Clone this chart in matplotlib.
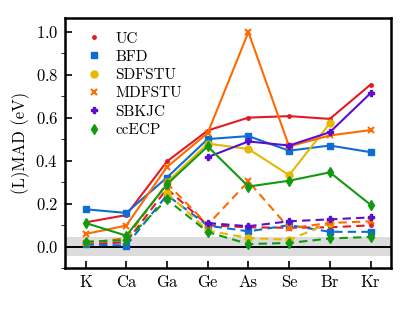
import numpy as np
import matplotlib
matplotlib.use("Agg")
from matplotlib import pyplot as plt
from matplotlib.lines import Line2D
from matplotlib.ticker import MultipleLocator

plt.rcParams["font.family"] = "cmr10"
plt.rcParams["mathtext.fontset"] = "cm"
plt.rcParams["axes.formatter.use_mathtext"] = True

elements = ["K", "Ca", "Ga", "Ge", "As", "Se", "Br", "Kr"]
methods = ["UC", "BFD", "SDFSTU", "MDFSTU", "SBKJC", "ccECP"]
colors = ["#e41a23", "#0f6cd1", "#e6b800", "#ff6a00", "#5a0fcf", "#119a11"]
markers = [".", "s", "o", "x", "P", "d"]

# solid lines (large)
uc_l = [0.113, 0.147, 0.397, 0.541, 0.601, 0.608, 0.595, 0.755]
bfd_l = [0.174, 0.157, 0.322, 0.501, 0.515, 0.447, 0.471, 0.440]
sdfstu_l = [np.nan, np.nan, 0.300, 0.480, 0.455, 0.333, 0.575, np.nan]
mdfstu_l = [0.059, 0.098, 0.371, 0.529, 0.999, 0.467, 0.518, 0.543]
sbkjc_l = [np.nan, np.nan, np.nan, 0.417, 0.490, 0.471, 0.533, 0.715]
ccecp_l = [0.110, 0.051, 0.290, 0.467, 0.280, 0.307, 0.346, 0.195]

# dashed lines (small)
uc_s = [0.012, 0.020, 0.270, 0.100, 0.090, 0.088, 0.090, 0.099]
bfd_s = [0.010, 0.005, 0.240, 0.098, 0.071, 0.100, 0.069, 0.069]
sdfstu_s = [np.nan, np.nan, 0.250, 0.075, 0.040, 0.032, 0.110, np.nan]
mdfstu_s = [0.015, 0.040, 0.295, 0.102, 0.304, 0.086, 0.110, 0.118]
sbkjc_s = [np.nan, np.nan, np.nan, 0.110, 0.095, 0.118, 0.127, 0.136]
ccecp_s = [0.023, 0.030, 0.220, 0.068, 0.012, 0.017, 0.038, 0.045]

large = [uc_l, bfd_l, sdfstu_l, mdfstu_l, sbkjc_l, ccecp_l]
small = [uc_s, bfd_s, sdfstu_s, mdfstu_s, sbkjc_s, ccecp_s]

x = np.arange(len(elements))

fig = plt.figure(figsize=(4.15, 3.11), dpi=100)
ax = fig.add_axes([0.157, 0.138, 0.785, 0.804])

ax.axhspan(-0.0434, 0.0434, color="#dcdcdc", lw=0, zorder=0)
ax.axhline(0.0, color="k", lw=1.4, zorder=1)

for i in range(len(methods)):
    mew = 1.5 if markers[i] == "x" else 1.0
    ax.plot(x, large[i], color=colors[i], marker=markers[i], ms=5, mew=mew,
            lw=1.5, ls="-", zorder=3)
    ax.plot(x, small[i], color=colors[i], marker=markers[i], ms=5, mew=mew,
            lw=1.5, ls=(0, (4, 2.5)), zorder=3)

handles = [Line2D([], [], color=colors[i], marker=markers[i], ls="none",
                  ms=5, mew=1.5 if markers[i] == "x" else 1.0)
           for i in range(len(methods))]
ax.legend(handles, methods, loc="upper left", frameon=False, fontsize=11,
          handletextpad=0.4, labelspacing=0.3, borderaxespad=0.5,
          borderpad=0.4)

ax.set_xlim(-0.5, 7.5)
ax.set_ylim(-0.1, 1.065)
ax.set_xticks(x)
ax.set_xticklabels(elements)
ax.yaxis.set_major_locator(MultipleLocator(0.2))
ax.yaxis.set_minor_locator(MultipleLocator(0.1))
ax.tick_params(direction="in", labelsize=12, width=1.2)
ax.tick_params(which="major", length=5, pad=5)
ax.tick_params(which="minor", length=3)
ax.set_ylabel("(L)MAD (eV)", fontsize=12, labelpad=4)
for s in ax.spines.values():
    s.set_linewidth(1.8)

fig.savefig("out.png", dpi=100)
